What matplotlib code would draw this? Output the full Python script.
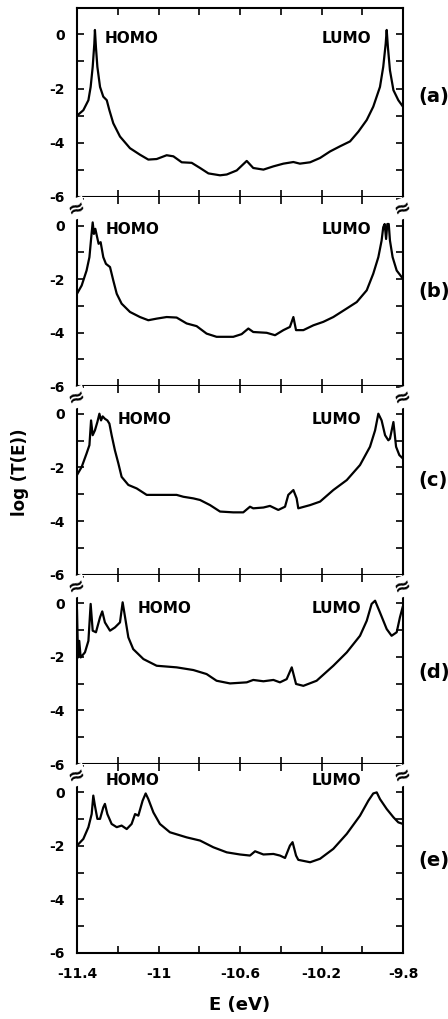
import numpy as np
import matplotlib
matplotlib.use('Agg')
import matplotlib.pyplot as plt
from matplotlib.ticker import MultipleLocator, FuncFormatter

# transmission curves, log(T) vs E (eV)
E_a = [-11.400, -11.369, -11.344, -11.333, -11.323, -11.315, -11.312, -11.307, -11.300, -11.287,
       -11.271, -11.254, -11.241, -11.222, -11.189, -11.140, -11.091, -11.050, -11.009, -10.960,
       -10.927, -10.886, -10.837, -10.796, -10.755, -10.698, -10.665, -10.616, -10.567, -10.535,
       -10.485, -10.436, -10.387, -10.338, -10.306, -10.256, -10.207, -10.158, -10.109, -10.060,
       -10.019, -9.978, -9.946, -9.913, -9.897, -9.885, -9.880, -9.874, -9.864, -9.847, -9.823, -9.800]
T_a = [-3.00, -2.80, -2.43, -1.94, -1.20, -0.35, 0.16, -0.48, -1.20, -1.94,
       -2.30, -2.43, -2.80, -3.28, -3.77, -4.20, -4.44, -4.62, -4.60, -4.46,
       -4.50, -4.72, -4.74, -4.93, -5.13, -5.20, -5.17, -5.02, -4.67, -4.93,
       -4.99, -4.87, -4.77, -4.71, -4.77, -4.72, -4.56, -4.32, -4.13, -3.95,
       -3.59, -3.16, -2.67, -1.94, -1.20, -0.35, 0.16, -0.48, -1.33, -2.06, -2.43, -2.67]

E_b = [-11.400, -11.377, -11.353, -11.339, -11.330, -11.323, -11.317, -11.310, -11.303, -11.294,
       -11.284, -11.271, -11.258, -11.238, -11.222, -11.205, -11.181, -11.140, -11.091, -11.050,
       -11.009, -10.960, -10.911, -10.862, -10.813, -10.764, -10.715, -10.633, -10.592, -10.559,
       -10.535, -10.469, -10.428, -10.387, -10.355, -10.338, -10.325, -10.289, -10.240, -10.191,
       -10.142, -10.076, -10.027, -9.978, -9.946, -9.921, -9.905, -9.897, -9.890, -9.883,
       -9.877, -9.870, -9.864, -9.851, -9.831, -9.800]
T_b = [-2.55, -2.24, -1.68, -1.18, -0.43, 0.12, -0.31, -0.12, -0.37, -0.68,
       -0.62, -1.18, -1.43, -1.55, -2.05, -2.55, -2.92, -3.23, -3.42, -3.54,
       -3.48, -3.42, -3.44, -3.66, -3.76, -4.04, -4.16, -4.16, -4.06, -3.85,
       -3.98, -4.01, -4.10, -3.91, -3.79, -3.42, -3.91, -3.91, -3.73, -3.60,
       -3.42, -3.10, -2.86, -2.42, -1.80, -1.18, -0.56, -0.06, 0.06, -0.50,
       0.06, 0.06, -0.56, -1.18, -1.68, -1.99]

E_c = [-11.400, -11.377, -11.353, -11.339, -11.331, -11.323, -11.312, -11.300, -11.290, -11.282,
       -11.274, -11.263, -11.251, -11.241, -11.230, -11.214, -11.197, -11.181, -11.148, -11.107,
       -11.058, -11.009, -10.960, -10.911, -10.878, -10.829, -10.796, -10.747, -10.698, -10.633,
       -10.584, -10.551, -10.535, -10.485, -10.453, -10.412, -10.379, -10.363, -10.338, -10.322,
       -10.314, -10.256, -10.207, -10.142, -10.076, -10.011, -9.962, -9.937, -9.921, -9.905,
       -9.888, -9.872, -9.864, -9.847, -9.834, -9.818, -9.800]
T_c = [-2.28, -1.98, -1.48, -1.17, -0.25, -0.80, -0.62, -0.31, 0.00, -0.25,
       -0.10, -0.19, -0.25, -0.37, -0.80, -1.36, -1.85, -2.35, -2.65, -2.78,
       -3.02, -3.02, -3.02, -3.02, -3.09, -3.15, -3.21, -3.40, -3.64, -3.67,
       -3.67, -3.46, -3.52, -3.49, -3.43, -3.58, -3.46, -3.02, -2.84, -3.15,
       -3.52, -3.40, -3.27, -2.84, -2.47, -1.91, -1.23, -0.62, 0.00, -0.25,
       -0.80, -0.99, -0.93, -0.31, -1.23, -1.54, -1.67]

E_d = [-11.400, -11.395, -11.389, -11.382, -11.361, -11.344, -11.333, -11.323, -11.307, -11.287,
       -11.276, -11.263, -11.238, -11.214, -11.189, -11.176, -11.164, -11.148, -11.124, -11.074,
       -11.009, -10.911, -10.829, -10.764, -10.715, -10.649, -10.567, -10.535, -10.485, -10.436,
       -10.404, -10.371, -10.346, -10.325, -10.289, -10.224, -10.142, -10.076, -10.011, -9.978,
       -9.954, -9.937, -9.913, -9.880, -9.856, -9.831, -9.815, -9.802]
T_d = [-0.27, -2.02, -1.40, -2.02, -1.83, -1.40, -0.02, -1.02, -1.08, -0.52,
       -0.30, -0.71, -1.02, -0.90, -0.71, 0.04, -0.52, -1.27, -1.71, -2.08,
       -2.33, -2.39, -2.49, -2.64, -2.89, -2.99, -2.95, -2.86, -2.91, -2.86,
       -2.95, -2.83, -2.39, -3.01, -3.08, -2.89, -2.33, -1.83, -1.21, -0.65,
       -0.02, 0.10, -0.34, -0.96, -1.21, -1.08, -0.52, -0.15]

E_e = [-11.400, -11.369, -11.344, -11.328, -11.320, -11.312, -11.300, -11.287, -11.271, -11.263,
       -11.251, -11.230, -11.205, -11.181, -11.156, -11.132, -11.115, -11.099, -11.078, -11.063,
       -11.050, -11.025, -10.993, -10.944, -10.862, -10.796, -10.731, -10.665, -10.600, -10.551,
       -10.526, -10.485, -10.436, -10.404, -10.379, -10.355, -10.342, -10.325, -10.314, -10.256,
       -10.207, -10.142, -10.076, -10.011, -9.970, -9.946, -9.929, -9.913, -9.880, -9.847,
       -9.823, -9.800]
T_e = [-1.99, -1.74, -1.30, -0.81, -0.12, -0.50, -0.99, -0.99, -0.56, -0.43,
       -0.81, -1.18, -1.30, -1.24, -1.37, -1.18, -0.81, -0.87, -0.31, -0.04,
       -0.25, -0.75, -1.18, -1.49, -1.68, -1.80, -2.05, -2.24, -2.32, -2.36,
       -2.20, -2.32, -2.30, -2.36, -2.45, -1.99, -1.86, -2.36, -2.52, -2.61,
       -2.48, -2.11, -1.55, -0.87, -0.31, -0.04, 0.00, -0.25, -0.62, -0.93,
       -1.12, -1.18]

panels = ['(a)', '(b)', '(c)', '(d)', '(e)']
curves = [(E_a, T_a), (E_b, T_b), (E_c, T_c), (E_d, T_d), (E_e, T_e)]

# where HOMO / LUMO labels sit (E, logT)
homo_pos = [(-11.263, -0.15), (-11.258, -0.15), (-11.202, -0.22), (-11.104, -0.21), (-11.259, 0.43)]
lumo_pos = [(-10.198, -0.15), (-10.200, -0.15), (-10.248, -0.22), (-10.248, -0.21), (-10.248, 0.43)]
ytop = [0.97, 1.07, 1.03, 1.06, 1.06]
tag_y = [-2.3, -2.47, -2.5, -2.57, -2.53]

plt.rcParams['font.family'] = 'DejaVu Sans'
plt.rcParams['font.weight'] = 'bold'

fig = plt.figure(figsize=(4.48, 10.19), dpi=100)
left, width = 77 / 448, 326 / 448
h = 189 / 1019
bottom0 = 1 - 953 / 1019

axes = []
for i in range(5):
    ax = fig.add_axes([left, bottom0 + (4 - i) * h, width, h])
    E, T = curves[i]
    ax.plot(E, T, color='black', lw=1.6)
    ax.set_xlim(-11.4, -9.8)
    ax.set_ylim(-6, ytop[i])
    ax.xaxis.set_major_locator(MultipleLocator(0.2))
    ax.yaxis.set_major_locator(MultipleLocator(1))
    ax.yaxis.set_major_formatter(FuncFormatter(lambda v, p: '%d' % round(v) if round(v) % 2 == 0 else ''))
    if i == 4:
        ax.xaxis.set_major_formatter(FuncFormatter(
            lambda v, p: ('%g' % round(v, 1)) if abs(round((v + 11.4) / 0.4) - (v + 11.4) / 0.4) < 1e-6 else ''))
    else:
        ax.set_xticklabels([])
    ax.tick_params(direction='in', top=True, right=True, length=5, width=1.2, labelsize=10)
    ax.tick_params(axis='y', pad=9)
    ax.tick_params(axis='x', pad=10)
    for s in ax.spines.values():
        s.set_linewidth(1.5)
    if i > 0:
        ax.spines['top'].set_visible(False)
    ax.text(homo_pos[i][0], homo_pos[i][1], 'HOMO', fontsize=11, fontweight='bold',
            ha='left', va='center')
    ax.text(lumo_pos[i][0], lumo_pos[i][1], 'LUMO', fontsize=11, fontweight='bold',
            ha='left', va='center')
    ax.text(1.046, tag_y[i], panels[i], transform=ax.get_yaxis_transform(),
            fontsize=14, fontweight='bold', ha='left', va='center', clip_on=False)
    # axis break marks at the top of lower panels
    if i > 0:
        for xx in (0, 1):
            ax.text(xx, 0.94, '\u2248', transform=ax.transAxes, fontsize=15,
                    ha='center', va='center', rotation=20, zorder=10,
                    bbox=dict(facecolor='white', edgecolor='none', pad=0.2), clip_on=False)
    axes.append(ax)

axes[4].set_xlabel('E (eV)', fontsize=13, fontweight='bold', labelpad=11)
fig.text(20 / 448, 1 - 472 / 1019, 'log (T(E))', rotation=90, fontsize=12,
         fontweight='bold', ha='center', va='center')

fig.savefig('out.png', dpi=100)
